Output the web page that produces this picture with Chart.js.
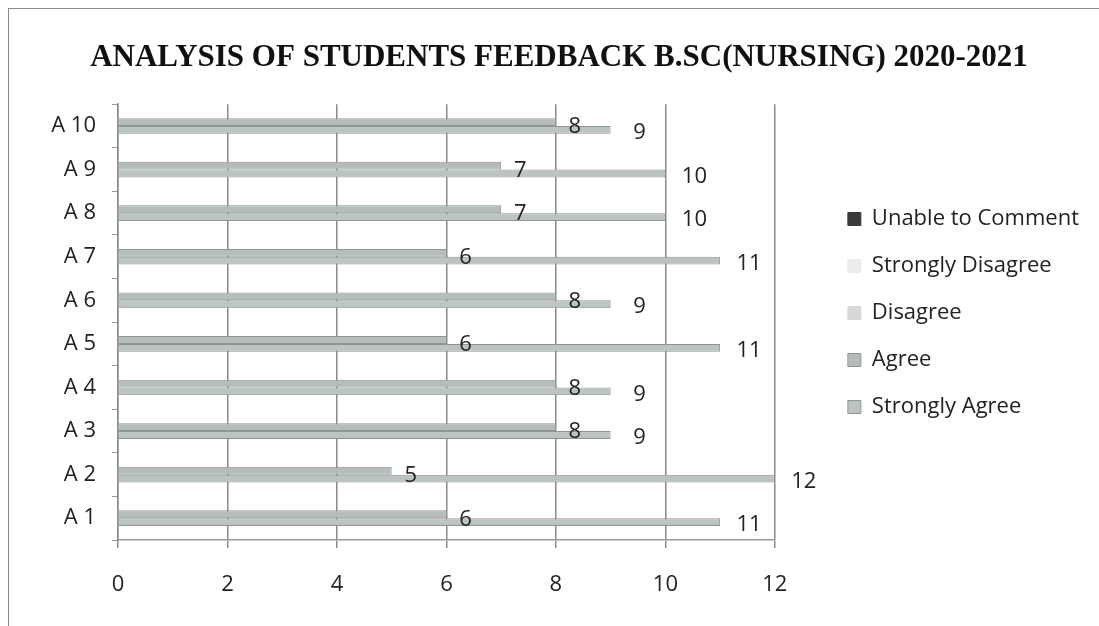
<!DOCTYPE html>
<html>
<head>
<meta charset="utf-8">
<script src="https://cdn.jsdelivr.net/npm/chart.js@4.4.0/dist/chart.umd.min.js"></script>
<style>
  html, body { margin: 0; padding: 0; background: #fff; }
  #wrap { position: relative; width: 1099px; height: 626px; }
  #frame { position: absolute; left: 8px; top: 8px; right: 0; bottom: 0;
           border-top: 1.5px solid #8a8a8a; border-left: 1.5px solid #8a8a8a; pointer-events: none; }
</style>
</head>
<body>
<div id="wrap">
  <canvas id="feedbackChart" width="1099" height="626"></canvas>
  <div id="frame"></div>
</div>
<script>
// questions A 1 .. A 10 (A 1 drawn at the bottom)
var questions = ['A 1', 'A 2', 'A 3', 'A 4', 'A 5', 'A 6', 'A 7', 'A 8', 'A 9', 'A 10'];
var stronglyAgree    = [11, 12, 9, 9, 11, 9, 11, 10, 10, 9];
var agree            = [6, 5, 8, 8, 6, 8, 6, 7, 7, 8];
var disagree         = [0, 0, 0, 0, 0, 0, 0, 0, 0, 0];
var stronglyDisagree = [0, 0, 0, 0, 0, 0, 0, 0, 0, 0];
var unableToComment  = [0, 0, 0, 0, 0, 0, 0, 0, 0, 0];
var xTicks = [0, 2, 4, 6, 8, 10, 12];

var fontName = "'Open Sans', 'Liberation Sans', sans-serif";

// empty series take no room in the group
function noZero(arr) {
    return arr.map(function (v) { return v === 0 ? null : v; });
}

// draws the value next to each bar end
var valueLabels = {
    id: 'valueLabels',
    afterDatasetsDraw: function (chart) {
        var ctx = chart.ctx;
        ctx.save();
        ctx.font = '22px ' + fontName;
        ctx.fillStyle = '#222';
        ctx.textAlign = 'center';
        ctx.textBaseline = 'middle';
        chart.data.datasets.forEach(function (ds, i) {
            var meta = chart.getDatasetMeta(i);
            meta.data.forEach(function (bar, j) {
                var v = ds.data[j];
                if (!v) return;
                if (ds.label === 'Strongly Agree') {
                    ctx.fillText(v, bar.x + 29, bar.y + 3);
                } else {
                    ctx.fillText(v, bar.x + 19, bar.y + 5);
                }
            });
        });
        ctx.restore();
    }
};

var ctx = document.getElementById('feedbackChart');
var feedbackChart = new Chart(ctx, {
    type: 'bar',
    data: {
        labels: questions,
        datasets: [
            { label: 'Unable to Comment', data: noZero(unableToComment), backgroundColor: '#3a3a3a', borderColor: '#3a3a3a' },
            { label: 'Strongly Disagree', data: noZero(stronglyDisagree), backgroundColor: '#ececec', borderColor: '#ececec' },
            { label: 'Disagree', data: noZero(disagree), backgroundColor: '#d6d8d8', borderColor: '#d6d8d8' },
            { label: 'Agree', data: agree, backgroundColor: '#b4bdbb', borderColor: '#8e9694' },
            { label: 'Strongly Agree', data: stronglyAgree, backgroundColor: '#bcc4c2', borderColor: '#8e9694' }
        ]
    },
    options: {
        indexAxis: 'y',
        responsive: false,
        animation: false,
        skipNull: true,
        categoryPercentage: 0.36,
        barPercentage: 1.0,
        borderWidth: 1,
        layout: { padding: { left: 29, right: 10, top: 0, bottom: 0 } },
        plugins: {
            title: {
                display: true,
                text: 'ANALYSIS OF STUDENTS FEEDBACK B.SC(NURSING) 2020-2021',
                color: '#111',
                font: { family: "'Liberation Serif', 'Times New Roman', serif", size: 31, weight: 'bold' },
                padding: { top: 39, bottom: 28 }
            },
            legend: {
                position: 'right',
                maxWidth: 320,
                labels: {
                    color: '#222',
                    font: { family: fontName, size: 22 },
                    boxWidth: 13,
                    boxHeight: 13,
                    padding: 25
                }
            },
            tooltip: { enabled: false }
        },
        scales: {
            x: {
                min: 0,
                max: 12,
                afterBuildTicks: function (s) {
                    s.ticks = xTicks.map(function (v) { return { value: v }; });
                },
                ticks: { color: '#222', font: { family: fontName, size: 22 }, padding: 24 },
                grid: { color: '#8a8a8a', lineWidth: 1.5, tickLength: 8 },
                border: { color: '#9a9a9a', width: 1.5 },
                afterFit: function (s) { s.height = 86; }
            },
            y: {
                reverse: true,
                ticks: { color: '#222', font: { family: fontName, size: 22 }, padding: 16 },
                grid: { drawOnChartArea: false, color: '#9a9a9a', tickLength: 6 },
                border: { color: '#8a8a8a', width: 1.5 },
                afterFit: function (s) { s.width = 89; }
            },
            gap: {
                type: 'linear',
                position: 'right',
                ticks: { display: false },
                grid: { display: false },
                border: { display: false },
                afterFit: function (s) { s.width = 48; }
            }
        }
    },
    plugins: [valueLabels]
});
</script>
</body>
</html>
